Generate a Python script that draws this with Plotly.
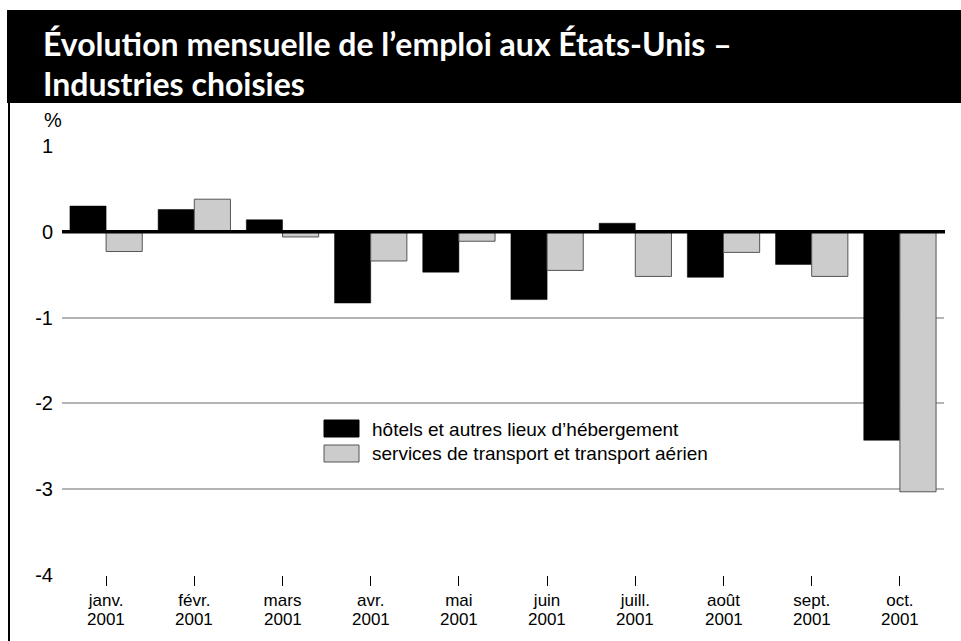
import plotly.graph_objects as go

months = ["janv.", "févr.", "mars", "avr.", "mai", "juin", "juill.", "août", "sept.", "oct."]
year = "2001"
hotels = [0.30, 0.26, 0.14, -0.83, -0.47, -0.79, 0.10, -0.53, -0.38, -2.43]
transport = [-0.23, 0.38, -0.06, -0.34, -0.11, -0.45, -0.52, -0.24, -0.52, -3.03]
series_names = ["hôtels et autres lieux d’hébergement",
                "services de transport et transport aérien"]
title_lines = ["Évolution mensuelle de l’emploi aux États-Unis –", "Industries choisies"]
y_ticks = [1, 0, -1, -2, -3, -4]

W, H = 961, 641
L, R, T, B = 62, 17, 146, 66
pw, ph = W - L - R, H - T - B

def px(x):
    return (x - L) / pw

def py(y):
    return (H - B - y) / ph

TITLE_FONT = "Lato, Open Sans, Liberation Sans, sans-serif"
TICK_FONT = "Liberation Sans, Arial, sans-serif"

fig = go.Figure()
fig.add_trace(go.Bar(x=months, y=hotels, name=series_names[0],
                     marker=dict(color="#000000", line=dict(color="#000000", width=0.5))))
fig.add_trace(go.Bar(x=months, y=transport, name=series_names[1],
                     marker=dict(color="#cccccc", line=dict(color="#555555", width=1))))

shapes = []
shapes.append(dict(type="rect", xref="paper", yref="paper", x0=px(7), x1=px(961),
                   y0=py(103), y1=py(10), fillcolor="#000000", line=dict(width=0), layer="above"))
shapes.append(dict(type="line", xref="paper", yref="paper", x0=px(9), x1=px(9),
                   y0=py(641), y1=py(103), line=dict(color="#000000", width=2)))
shapes.append(dict(type="line", xref="paper", yref="y", x0=0, x1=(945 - L) / pw, y0=0, y1=0,
                   line=dict(color="#000000", width=3.5), layer="above"))
shapes.append(dict(type="rect", xref="paper", yref="paper", x0=px(324), x1=px(359),
                   y0=py(437), y1=py(420), fillcolor="#000000", line=dict(color="#000000", width=1)))
shapes.append(dict(type="rect", xref="paper", yref="paper", x0=px(324), x1=px(359),
                   y0=py(462), y1=py(445), fillcolor="#cccccc", line=dict(color="#555555", width=1)))

annotations = []
for line, yc in zip(title_lines, [43, 83]):
    annotations.append(dict(xref="paper", yref="paper", x=px(41), y=py(yc),
                            text="<b>" + line + "</b>", showarrow=False,
                            xanchor="left", yanchor="middle",
                            font=dict(family=TITLE_FONT, size=32, color="#ffffff")))
annotations.append(dict(xref="paper", yref="paper", x=px(42), y=py(120),
                        text="%", showarrow=False, xanchor="left", yanchor="middle",
                        font=dict(family=TICK_FONT, size=20, color="#000000")))
for name, yc in zip(series_names, [429, 453]):
    annotations.append(dict(xref="paper", yref="paper", x=px(370), y=py(yc),
                            text=name, showarrow=False, xanchor="left", yanchor="middle",
                            font=dict(family=TICK_FONT, size=19, color="#000000")))
for m in months:
    annotations.append(dict(xref="x", yref="paper", x=m, y=py(619),
                            text=year, showarrow=False, xanchor="center", yanchor="middle",
                            font=dict(family=TICK_FONT, size=17, color="#000000")))

fig.update_layout(
    width=W, height=H,
    margin=dict(l=L, r=R, t=T, b=B),
    paper_bgcolor="#ffffff", plot_bgcolor="#ffffff",
    barmode="group", bargap=0.18, bargroupgap=0,
    showlegend=False,
    shapes=shapes, annotations=annotations,
    font=dict(family=TICK_FONT, size=17, color="#000000"),
)
fig.update_xaxes(showgrid=False, zeroline=False, showline=False,
                 ticks="outside", ticklen=10, tickcolor="#000000", tickwidth=1,
                 tickfont=dict(family=TICK_FONT, size=17))
fig.update_yaxes(range=[-4, 1], tickvals=y_ticks, ticktext=[str(v) for v in y_ticks],
                 showgrid=True, gridcolor="#b4b4b4", gridwidth=1.5,
                 zeroline=False, showline=False, ticks="", ticklabelstandoff=8,
                 tickfont=dict(family=TICK_FONT, size=20))

fig.write_html("out.html", config={"displayModeBar": False},
               post_script="document.body.style.margin='0px';")
